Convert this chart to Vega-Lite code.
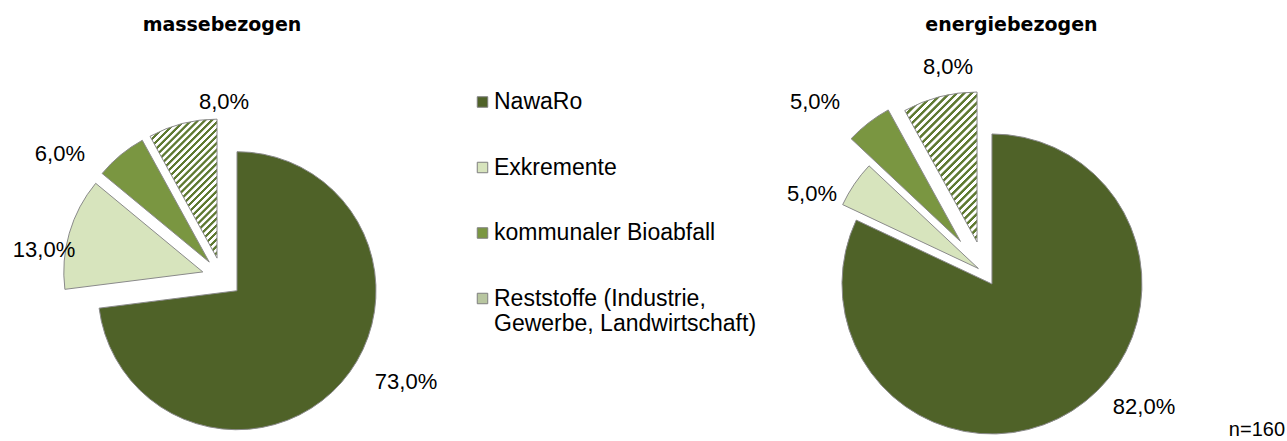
{
  "$schema": "https://vega.github.io/schema/vega-lite/v6.json",
  "padding": {"left": 0, "top": 16, "right": 0, "bottom": 0},
  "autosize": {"type": "pad"},
  "background": "white",
  "config": {
    "view": {"stroke": null},
    "locale": {"number": {"decimal": ",", "thousands": ".", "grouping": [3], "currency": ["", " €"]}},
    "font": "Liberation Sans"
  },
  "title": {"text": "n=160", "orient": "bottom", "anchor": "end", "fontSize": 20, "fontWeight": "normal", "font": "Liberation Sans", "color": "black", "offset": 0, "dx": 78, "dy": -16},
  "data": {"values": [
    {"basis": "massebezogen", "cat": "NawaRo", "idx": 1, "pct": 0.73},
    {"basis": "massebezogen", "cat": "Exkremente", "idx": 2, "pct": 0.13},
    {"basis": "massebezogen", "cat": "kommunaler Bioabfall", "idx": 3, "pct": 0.06},
    {"basis": "massebezogen", "cat": "Reststoffe (Industrie, Gewerbe, Landwirtschaft)", "idx": 4, "pct": 0.08},
    {"basis": "energiebezogen", "cat": "NawaRo", "idx": 1, "pct": 0.82},
    {"basis": "energiebezogen", "cat": "Exkremente", "idx": 2, "pct": 0.05},
    {"basis": "energiebezogen", "cat": "kommunaler Bioabfall", "idx": 3, "pct": 0.05},
    {"basis": "energiebezogen", "cat": "Reststoffe (Industrie, Gewerbe, Landwirtschaft)", "idx": 4, "pct": 0.08}
  ]},
  "facet": {"column": {"field": "basis", "type": "nominal", "sort": ["massebezogen", "energiebezogen"], "title": null,
    "header": {"labelFontSize": 19, "labelFontWeight": "bold", "labelFont": "DejaVu Sans", "labelPadding": 20, "labelColor": "black",
      "labelExpr": "((datum.label) === 'energiebezogen' ? '\u200b\u00a0\u00a0\u00a0\u00a0\u00a0\u00a0\u00a0\u00a0' : '') + (datum.label)"}}},
  "spacing": {"column": 319},
  "spec": {
    "width": 444,
    "height": 300,
    "layer": [
      {
        "mark": {"type": "arc",
          "radius": {"expr": "datum.basis === 'massebezogen' ? 139 : 150"},
          "stroke": "#8a8a8a", "strokeWidth": 1,
          "xOffset": {"expr": "(datum.basis === 'massebezogen' ? 20 : [13, 8, 40, 32][datum.idx - 1]) * sin(PI * (datum.pct_start + datum.pct_end))"},
          "yOffset": {"expr": "(datum.basis === 'massebezogen' ? 2.5 : -2) - (datum.basis === 'massebezogen' ? 20 : [13, 8, 40, 32][datum.idx - 1]) * cos(PI * (datum.pct_start + datum.pct_end))"}
        },
        "encoding": {
          "theta": {"field": "pct", "type": "quantitative", "stack": true},
          "order": {"field": "idx", "type": "quantitative"},
          "fill": {
            "condition": {"test": "datum.idx === 4", "value": {"gradient": "linear", "x1": 0, "y1": 0, "x2": 0.58, "y2": 1.203, "stops": [
              {"offset": 0, "color": "#5f7a32"}, {"offset": 0.012, "color": "#5f7a32"}, {"offset": 0.0155, "color": "#ffffff"}, {"offset": 0.03, "color": "#ffffff"},
              {"offset": 0.0333, "color": "#5f7a32"}, {"offset": 0.0453, "color": "#5f7a32"}, {"offset": 0.0488, "color": "#ffffff"}, {"offset": 0.0633, "color": "#ffffff"},
              {"offset": 0.0667, "color": "#5f7a32"}, {"offset": 0.0787, "color": "#5f7a32"}, {"offset": 0.0822, "color": "#ffffff"}, {"offset": 0.0967, "color": "#ffffff"},
              {"offset": 0.1, "color": "#5f7a32"}, {"offset": 0.112, "color": "#5f7a32"}, {"offset": 0.1155, "color": "#ffffff"}, {"offset": 0.13, "color": "#ffffff"},
              {"offset": 0.1333, "color": "#5f7a32"}, {"offset": 0.1453, "color": "#5f7a32"}, {"offset": 0.1488, "color": "#ffffff"}, {"offset": 0.1633, "color": "#ffffff"},
              {"offset": 0.1667, "color": "#5f7a32"}, {"offset": 0.1787, "color": "#5f7a32"}, {"offset": 0.1822, "color": "#ffffff"}, {"offset": 0.1967, "color": "#ffffff"},
              {"offset": 0.2, "color": "#5f7a32"}, {"offset": 0.212, "color": "#5f7a32"}, {"offset": 0.2155, "color": "#ffffff"}, {"offset": 0.23, "color": "#ffffff"},
              {"offset": 0.2333, "color": "#5f7a32"}, {"offset": 0.2453, "color": "#5f7a32"}, {"offset": 0.2488, "color": "#ffffff"}, {"offset": 0.2633, "color": "#ffffff"},
              {"offset": 0.2667, "color": "#5f7a32"}, {"offset": 0.2787, "color": "#5f7a32"}, {"offset": 0.2822, "color": "#ffffff"}, {"offset": 0.2967, "color": "#ffffff"},
              {"offset": 0.3, "color": "#5f7a32"}, {"offset": 0.312, "color": "#5f7a32"}, {"offset": 0.3155, "color": "#ffffff"}, {"offset": 0.33, "color": "#ffffff"},
              {"offset": 0.3333, "color": "#5f7a32"}, {"offset": 0.3453, "color": "#5f7a32"}, {"offset": 0.3488, "color": "#ffffff"}, {"offset": 0.3633, "color": "#ffffff"},
              {"offset": 0.3667, "color": "#5f7a32"}, {"offset": 0.3787, "color": "#5f7a32"}, {"offset": 0.3822, "color": "#ffffff"}, {"offset": 0.3967, "color": "#ffffff"},
              {"offset": 0.4, "color": "#5f7a32"}, {"offset": 0.412, "color": "#5f7a32"}, {"offset": 0.4155, "color": "#ffffff"}, {"offset": 0.43, "color": "#ffffff"},
              {"offset": 0.4333, "color": "#5f7a32"}, {"offset": 0.4453, "color": "#5f7a32"}, {"offset": 0.4488, "color": "#ffffff"}, {"offset": 0.4633, "color": "#ffffff"},
              {"offset": 0.4667, "color": "#5f7a32"}, {"offset": 0.4787, "color": "#5f7a32"}, {"offset": 0.4822, "color": "#ffffff"}, {"offset": 0.4967, "color": "#ffffff"},
              {"offset": 0.5, "color": "#5f7a32"}, {"offset": 0.512, "color": "#5f7a32"}, {"offset": 0.5155, "color": "#ffffff"}, {"offset": 0.53, "color": "#ffffff"},
              {"offset": 0.5333, "color": "#5f7a32"}, {"offset": 0.5453, "color": "#5f7a32"}, {"offset": 0.5488, "color": "#ffffff"}, {"offset": 0.5633, "color": "#ffffff"},
              {"offset": 0.5667, "color": "#5f7a32"}, {"offset": 0.5787, "color": "#5f7a32"}, {"offset": 0.5822, "color": "#ffffff"}, {"offset": 0.5967, "color": "#ffffff"},
              {"offset": 0.6, "color": "#5f7a32"}, {"offset": 0.612, "color": "#5f7a32"}, {"offset": 0.6155, "color": "#ffffff"}, {"offset": 0.63, "color": "#ffffff"},
              {"offset": 0.6333, "color": "#5f7a32"}, {"offset": 0.6453, "color": "#5f7a32"}, {"offset": 0.6488, "color": "#ffffff"}, {"offset": 0.6633, "color": "#ffffff"},
              {"offset": 0.6667, "color": "#5f7a32"}, {"offset": 0.6787, "color": "#5f7a32"}, {"offset": 0.6822, "color": "#ffffff"}, {"offset": 0.6967, "color": "#ffffff"},
              {"offset": 0.7, "color": "#5f7a32"}, {"offset": 0.712, "color": "#5f7a32"}, {"offset": 0.7155, "color": "#ffffff"}, {"offset": 0.73, "color": "#ffffff"},
              {"offset": 0.7333, "color": "#5f7a32"}, {"offset": 0.7453, "color": "#5f7a32"}, {"offset": 0.7488, "color": "#ffffff"}, {"offset": 0.7633, "color": "#ffffff"},
              {"offset": 0.7667, "color": "#5f7a32"}, {"offset": 0.7787, "color": "#5f7a32"}, {"offset": 0.7822, "color": "#ffffff"}, {"offset": 0.7967, "color": "#ffffff"},
              {"offset": 0.8, "color": "#5f7a32"}, {"offset": 0.812, "color": "#5f7a32"}, {"offset": 0.8155, "color": "#ffffff"}, {"offset": 0.83, "color": "#ffffff"},
              {"offset": 0.8333, "color": "#5f7a32"}, {"offset": 0.8453, "color": "#5f7a32"}, {"offset": 0.8488, "color": "#ffffff"}, {"offset": 0.8633, "color": "#ffffff"},
              {"offset": 0.8667, "color": "#5f7a32"}, {"offset": 0.8787, "color": "#5f7a32"}, {"offset": 0.8822, "color": "#ffffff"}, {"offset": 0.8967, "color": "#ffffff"},
              {"offset": 0.9, "color": "#5f7a32"}, {"offset": 0.912, "color": "#5f7a32"}, {"offset": 0.9155, "color": "#ffffff"}, {"offset": 0.93, "color": "#ffffff"},
              {"offset": 0.9333, "color": "#5f7a32"}, {"offset": 0.9453, "color": "#5f7a32"}, {"offset": 0.9488, "color": "#ffffff"}, {"offset": 0.9633, "color": "#ffffff"},
              {"offset": 0.9667, "color": "#5f7a32"}, {"offset": 0.9787, "color": "#5f7a32"}, {"offset": 0.9822, "color": "#ffffff"}, {"offset": 0.9967, "color": "#ffffff"},
              {"offset": 1, "color": "#5f7a32"}
            ]}},
            "field": "cat", "type": "nominal",
            "scale": {"domain": ["NawaRo", "Exkremente", "kommunaler Bioabfall", "Reststoffe (Industrie, Gewerbe, Landwirtschaft)"],
                      "range": ["#4f6228", "#d7e4bd", "#7a9641", "#b8c6a0"]},
            "legend": {"orient": "none", "legendX": 471, "legendY": -34.5, "title": null,
              "symbolType": "square", "symbolSize": 110, "symbolStrokeColor": "#7f7f7f", "symbolStrokeWidth": 1,
              "labelFontSize": 23, "labelFont": "Liberation Sans", "labelColor": "black", "labelLimit": 0, "labelOffset": 0, "rowPadding": 41.5,
              "labelExpr": "datum.label === 'Reststoffe (Industrie, Gewerbe, Landwirtschaft)' ? ['Reststoffe (Industrie,', 'Gewerbe, Landwirtschaft)'] : datum.label"}
          }
        }
      },
      {
        "mark": {"type": "text", "radius": 190, "fontSize": 22, "font": "Liberation Sans", "color": "black",
          "dx": {"expr": "datum.basis === 'massebezogen' ? [41.5, 4.5, -41, 49.3][datum.idx - 1] : [57.2, -15.9, -53.5, 10.3][datum.idx - 1]"},
          "dy": {"expr": "datum.basis === 'massebezogen' ? [-18.6, 28, 25.4, 11][datum.idx - 1] : [-28.4, 25.8, -22.9, -24][datum.idx - 1]"}
        },
        "encoding": {
          "theta": {"field": "pct", "type": "quantitative", "stack": true},
          "order": {"field": "idx", "type": "quantitative"},
          "detail": {"field": "cat", "type": "nominal"},
          "text": {"field": "pct", "type": "quantitative", "format": ".1%"}
        }
      }
    ]
  }
}
